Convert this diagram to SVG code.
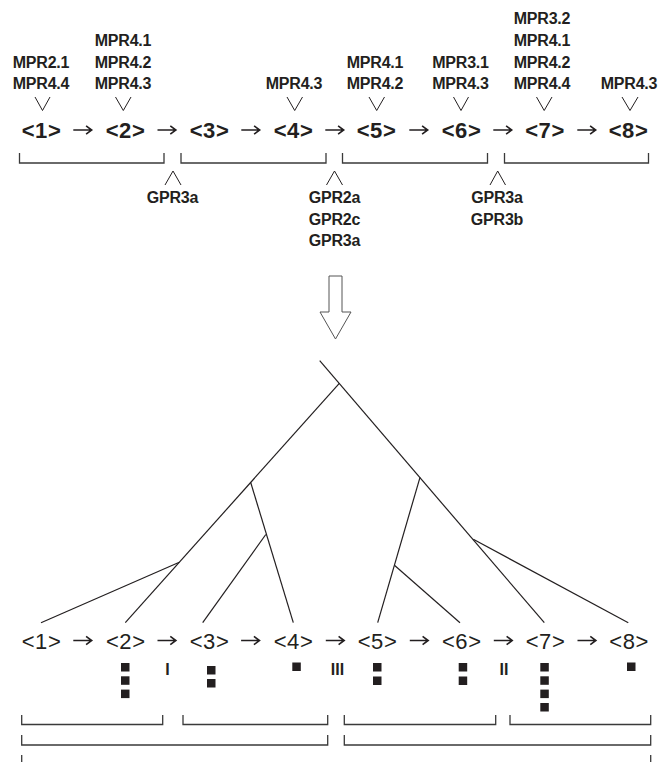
<svg xmlns="http://www.w3.org/2000/svg" width="670" height="762" viewBox="0 0 670 762">
  <style>
    .lbl { font-family: "Liberation Sans", Arial, sans-serif; font-weight: bold; font-size: 16px; letter-spacing: -0.2px; fill: #231f20; text-anchor: middle; }
    .seqb { font-family: "Liberation Sans", Arial, sans-serif; font-weight: bold; font-size: 22px; letter-spacing: 0.6px; fill: #231f20; text-anchor: middle; }
    .seq { font-family: "Liberation Sans", Arial, sans-serif; font-size: 22px; letter-spacing: 0.6px; fill: #231f20; text-anchor: middle; }
    .rom { font-family: "Liberation Sans", Arial, sans-serif; font-weight: bold; font-size: 16px; fill: #231f20; text-anchor: middle; }
    .mk { fill: none; stroke: #231f20; stroke-width: 1; }
    .br { fill: none; stroke: #3a3a3a; stroke-width: 1.3; }
    .edge { fill: none; stroke: #231f20; stroke-width: 1.2; }
    .sq { fill: #231f20; }
    .step { fill: none; stroke: #231f20; stroke-width: 1.6; stroke-linecap: butt; stroke-linejoin: miter; }
  </style>
  <defs>
    <!-- short step arrow between sequence positions, centred on its origin -->
    <path id="step" class="step" d="M-9.2,0 H8.6 M3.6,-4.2 L9.2,0 L3.6,4.2"/>
  </defs>

  <!-- Upper sequence with motif labels -->
  <g id="upper-sequence">
    <g id="u1">
      <text class="lbl" x="41" y="67.5">MPR2.1</text>
      <text class="lbl" x="41" y="89">MPR4.4</text>
      <path class="mk" d="M35,97 L42.5,110.5 L50,97"/>
      <text class="seqb" x="41.5" y="138">&lt;1&gt;</text>
    </g>
    <g id="u2">
      <text class="lbl" x="123" y="46">MPR4.1</text>
      <text class="lbl" x="123" y="67.5">MPR4.2</text>
      <text class="lbl" x="123" y="89">MPR4.3</text>
      <path class="mk" d="M115.5,97 L123.3,110.5 L131,97"/>
      <text class="seqb" x="125.5" y="138">&lt;2&gt;</text>
    </g>
    <g id="u3">
      <text class="seqb" x="209.5" y="138">&lt;3&gt;</text>
    </g>
    <g id="u4">
      <text class="lbl" x="294" y="89">MPR4.3</text>
      <path class="mk" d="M287,97 L294.7,110.5 L302.5,97"/>
      <text class="seqb" x="293.5" y="138">&lt;4&gt;</text>
    </g>
    <g id="u5">
      <text class="lbl" x="375" y="67.5">MPR4.1</text>
      <text class="lbl" x="375" y="89">MPR4.2</text>
      <path class="mk" d="M369,97 L376.7,110.5 L384.5,97"/>
      <text class="seqb" x="376.5" y="138">&lt;5&gt;</text>
    </g>
    <g id="u6">
      <text class="lbl" x="460.5" y="67.5">MPR3.1</text>
      <text class="lbl" x="460.5" y="89">MPR4.3</text>
      <path class="mk" d="M453.5,97 L461,110.5 L468.5,97"/>
      <text class="seqb" x="461.5" y="138">&lt;6&gt;</text>
    </g>
    <g id="u7">
      <text class="lbl" x="542" y="24">MPR3.2</text>
      <text class="lbl" x="542" y="46">MPR4.1</text>
      <text class="lbl" x="542" y="67.5">MPR4.2</text>
      <text class="lbl" x="542" y="89">MPR4.4</text>
      <path class="mk" d="M536.5,97 L544.2,110.5 L552,97"/>
      <text class="seqb" x="545" y="138">&lt;7&gt;</text>
    </g>
    <g id="u8">
      <text class="lbl" x="629" y="89">MPR4.3</text>
      <path class="mk" d="M622,97 L630,110.5 L638,97"/>
      <text class="seqb" x="628.5" y="138">&lt;8&gt;</text>
    </g>
    <g id="u-brackets">
      <path class="br" d="M19.5,153 V163 H164 V153"/>
      <path class="br" d="M181,153 V163 H326 V153"/>
      <path class="br" d="M342.5,153 V163 H487.5 V153"/>
      <path class="br" d="M504.5,153 V163 H648.5 V153"/>
    </g>
    <g id="u-breaks">
      <path class="mk" d="M165,185 L173,171 L181,185"/>
      <text class="lbl" x="172.5" y="203">GPR3a</text>
      <path class="mk" d="M326.5,185 L334.5,171 L342.5,185"/>
      <text class="lbl" x="334.5" y="203">GPR2a</text>
      <text class="lbl" x="334.5" y="224.5">GPR2c</text>
      <text class="lbl" x="334.5" y="246">GPR3a</text>
      <path class="mk" d="M490,185 L497.7,171 L505.5,185"/>
      <text class="lbl" x="497" y="203">GPR3a</text>
      <text class="lbl" x="497" y="224.5">GPR3b</text>
    </g>
  </g>

  <!-- Step arrows along both sequences -->
  <g id="step-arrows">
    <use href="#step" x="82.5" y="130"/>
    <use href="#step" x="166.7" y="130"/>
    <use href="#step" x="250.5" y="130"/>
    <use href="#step" x="334.5" y="130"/>
    <use href="#step" x="418.5" y="130"/>
    <use href="#step" x="502.5" y="130"/>
    <use href="#step" x="586.5" y="130"/>
    <use href="#step" x="82.5" y="640.5"/>
    <use href="#step" x="166.7" y="640.5"/>
    <use href="#step" x="250.3" y="640.5"/>
    <use href="#step" x="335" y="640.5"/>
    <use href="#step" x="419" y="640.5"/>
    <use href="#step" x="503" y="640.5"/>
    <use href="#step" x="586.7" y="640.5"/>
  </g>

  <!-- Hollow transition arrow -->
  <g id="transition">
    <path d="M329,276 H342 V312 H351 L335.5,339 L320,312 H329 Z" fill="#fff" stroke="#555" stroke-width="1"/>
  </g>

  <!-- Tree connectors -->
  <g id="tree">
    <path class="edge" d="M319.7,360.7 L544.3,622.7"/>
    <path class="edge" d="M339.3,383.3 L125.3,622.7"/>
    <path class="edge" d="M250.7,482.5 L293.3,622.7"/>
    <path class="edge" d="M265.8,534.5 L202.7,622.7"/>
    <path class="edge" d="M179.3,562.3 L41,622.7"/>
    <path class="edge" d="M420,477.3 L377.7,622.7"/>
    <path class="edge" d="M394.7,565.5 L460,622.7"/>
    <path class="edge" d="M473.3,539.3 L628.3,622.7"/>
  </g>

  <!-- Lower sequence with site markers -->
  <g id="lower-sequence">
    <g id="l1"><text class="seq" x="41.5" y="648.5">&lt;1&gt;</text></g>
    <g id="l2">
      <text class="seq" x="125.8" y="648.5">&lt;2&gt;</text>
      <rect class="sq" x="121" y="663" width="8.5" height="8.5"/>
      <rect class="sq" x="121" y="676.3" width="8.5" height="8.5"/>
      <rect class="sq" x="121" y="689.6" width="8.5" height="8.5"/>
    </g>
    <g id="l3">
      <text class="seq" x="209.5" y="648.5">&lt;3&gt;</text>
      <rect class="sq" x="207" y="666" width="8.5" height="8.5"/>
      <rect class="sq" x="207" y="679" width="8.5" height="8.5"/>
    </g>
    <g id="l4">
      <text class="seq" x="293.5" y="648.5">&lt;4&gt;</text>
      <rect class="sq" x="292.3" y="662.5" width="8.5" height="8.5"/>
    </g>
    <g id="l5">
      <text class="seq" x="377.5" y="648.5">&lt;5&gt;</text>
      <rect class="sq" x="373" y="663" width="8.5" height="8.5"/>
      <rect class="sq" x="373" y="676.5" width="8.5" height="8.5"/>
    </g>
    <g id="l6">
      <text class="seq" x="461.8" y="648.5">&lt;6&gt;</text>
      <rect class="sq" x="458.7" y="663" width="8.5" height="8.5"/>
      <rect class="sq" x="458.7" y="676.5" width="8.5" height="8.5"/>
    </g>
    <g id="l7">
      <text class="seq" x="545.5" y="648.5">&lt;7&gt;</text>
      <rect class="sq" x="540.3" y="663" width="8.5" height="8.5"/>
      <rect class="sq" x="540.3" y="676.3" width="8.5" height="8.5"/>
      <rect class="sq" x="540.3" y="689.6" width="8.5" height="8.5"/>
      <rect class="sq" x="540.3" y="703" width="8.5" height="8.5"/>
    </g>
    <g id="l8">
      <text class="seq" x="629.2" y="648.5">&lt;8&gt;</text>
      <rect class="sq" x="627" y="662.5" width="8.5" height="8.5"/>
    </g>
    <g id="l-numerals">
      <text class="rom" x="167.5" y="675">I</text>
      <text class="rom" x="337.5" y="675">III</text>
      <text class="rom" x="504" y="675">II</text>
    </g>
    <g id="l-brackets">
      <path class="br" d="M21.7,715 V724.5 H162.7 V715"/>
      <path class="br" d="M183,715 V724.5 H327.7 V715"/>
      <path class="br" d="M344.3,715 V724.5 H495.7 V715"/>
      <path class="br" d="M510,715 V724.5 H650.7 V715"/>
      <path class="br" d="M21.7,735 V745 H327.7 V735"/>
      <path class="br" d="M344.3,735 V745 H650.7 V735"/>
      <path class="br" d="M21.7,755 V764"/>
      <path class="br" d="M650.7,755 V764"/>
    </g>
  </g>
</svg>
